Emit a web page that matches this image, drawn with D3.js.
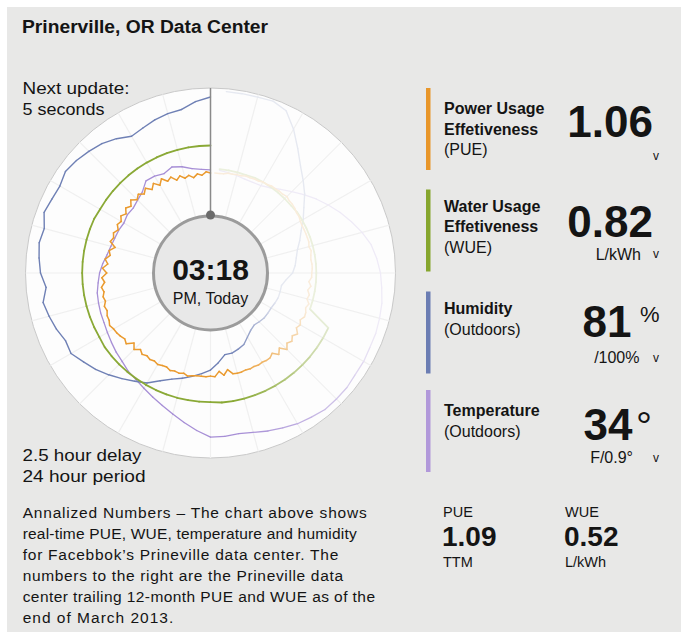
<!DOCTYPE html>
<html><head><meta charset="utf-8">
<script src="https://cdn.jsdelivr.net/npm/d3@7/dist/d3.min.js"></script>
<style>
html,body{margin:0;padding:0;background:#fff;}
svg{display:block;font-family:"Liberation Sans",Arial,Helvetica,sans-serif;}
</style>
</head><body>
<svg id="chart" width="681" height="641"></svg>
<script>
// ---------------- DATA ----------------
const title = "Prinerville, OR Data Center";

// Series sampled back in time from "now" (top of the dial), counter-clockwise over 24 hours.
const humidity = [80.7,78.8,75.9,75.4,74.4,73.0,72.0,74.9,77.3,78.8,
  80.2,81.2,79.7,80.2,81.2,78.8,79.7,78.8,77.8,75.4,
  77.8,76.4,74.9,73.0,73.5,70.6,68.2,65.3,62.4,59.6,
  57.2,53.3,50.4,48.5,46.6,44.7,42.8,39.4,36.0,36.0,
  35.1,34.1,31.7,29.8,28.8,29.3,29.8,29.8,29.8,30.3,
  30.8,30.8,30.8,32.7,35.6,37.0,38.0,39.4,41.8,44.2,
  47.6,50.9,55.2,59.1,63.4,69.2,75.9,82.1,84.0,83.6,
  83.6,83.6];

const temperature = [33.8,34.1,34.7,36.0,36.9,35.9,36.6,36.8,34.7,33.8,
  33.1,33.3,32.8,33.2,33.4,33.8,34.4,35.4,36.3,36.9,
  37.6,37.9,38.2,38.4,38.9,39.5,40.2,40.8,41.8,42.4,
  43.4,44.6,45.9,47.5,49.4,51.4,53.3,53.3,53.0,53.6,
  54.6,55.5,56.5,57.1,57.8,57.8,57.8,57.4,57.4,57.1,
  57.1,56.8,56.5,55.8,55.2,54.2,53.0,51.0,48.8,46.6,
  44.3,42.1,39.8,37.6,35.7,34.1,33.1,32.8,32.8,33.1,
  33.4,33.8];

const wue = [0.81,0.81,0.81,0.81,0.81,0.81,0.81,0.81,0.81,0.81,
  0.81,0.81,0.81,0.82,0.82,0.82,0.82,0.82,0.82,0.82,
  0.82,0.82,0.82,0.82,0.82,0.83,0.83,0.83,0.83,0.83,
  0.83,0.83,0.83,0.83,0.83,0.83,0.83,0.84,0.84,0.84,
  0.84,0.84,0.84,0.84,0.84,0.84,0.84,0.84,0.84,0.84,
  0.55,0.55,0.55,0.55,0.55,0.55,0.55,0.55,0.55,0.55,
  0.55,0.55,0.54,0.54,0.54,0.54,0.54,0.54,0.53,0.53,
  0.53,0.53];

const pue = [1.064,1.066,1.061,1.064,1.059,1.064,1.061,1.067,1.062,1.070,
  1.066,1.074,1.066,1.074,1.067,1.075,1.069,1.075,1.070,1.077,
  1.070,1.075,1.069,1.074,1.069,1.072,1.067,1.072,1.069,1.072,
  1.062,1.070,1.067,1.074,1.069,1.077,1.070,1.078,1.074,1.080,
  1.077,1.080,1.078,1.082,1.080,1.083,1.083,1.086,1.083,1.082,
  1.080,1.077,1.080,1.070,1.077,1.070,1.074,1.071,1.073,1.071,
  1.073,1.071,1.070,1.073,1.071,1.072,1.070,1.073,1.071,1.070,
  1.070,1.070,1.069,1.070,1.062,1.069,1.061,1.069,1.070,1.070,
  1.069,1.070,1.069,1.070,1.069,1.070,1.070,1.066,1.074,1.067,
  1.077,1.070,1.074,1.069,1.074,1.067,1.070,1.066,1.070,1.069,
  1.066,1.069,1.064,1.066,1.062,1.066,1.062,1.066,1.066,1.067,
  1.067,1.066,1.067,1.069,1.067,1.069,1.069,1.069,1.069,1.069,
  1.070,1.072,1.072,1.074,1.075,1.075,1.077,1.075,1.075,1.074,
  1.074,1.072,1.072,1.070,1.070,1.069,1.069,1.067,1.067,1.066,
  1.066,1.064,1.064,1.064];

const periodHours = 24;
const clockTime = "03:18";
const clockSub = "PM, Today";
const leftTopLines = ["Next update:", "5 seconds"];
const leftBottomLines = ["2.5 hour delay", "24 hour period"];

const metricLabels = [["Power Usage","Effetiveness"],["Water Usage","Effetiveness"],["Humidity"],["Temperature"]];
const metricSubs = ["(PUE)","(WUE)","(Outdoors)","(Outdoors)"];
const metricValues = ["1.06","0.82","81","34"];
const metricSups = ["","","%","°"];
const metricUnits = ["","L/kWh","/100%","F/0.9°"];
const metricColors = ["#e8962a","#86a62e","#6b7db3","#b198da"];

const ttmLabels = ["PUE","WUE"];
const ttmValues = ["1.09","0.52"];
const ttmUnits = ["TTM","L/kWh"];

const noteLines = ["Annalized Numbers – The chart above shows",
  "real-time PUE, WUE, temperature and humidity",
  "for Facebbok’s Prineville data center. The",
  "numbers to the right are the Prineville data",
  "center trailing 12-month PUE and WUE as of the",
  "end of March 2013."];

// ---------------- DRAW ----------------
const svg = d3.select("#chart");
const ink = "#141414";

svg.append("rect").attr("x",7).attr("y",7).attr("width",674).attr("height",625).attr("fill","#e8e8e7");

svg.append("text").attr("x",22).attr("y",33).attr("font-size",18).attr("font-weight","bold")
  .attr("fill",ink).attr("textLength",246).attr("lengthAdjust","spacingAndGlyphs").text(title);

// left captions
const leftTopW = [107, 82], leftBotW = [119, 123];
leftTopLines.forEach((t,i)=>svg.append("text").attr("x",22.5).attr("y",93.5+i*21.5)
  .attr("font-size",17).attr("fill",ink).attr("textLength",leftTopW[i]).attr("lengthAdjust","spacingAndGlyphs").text(t));
leftBottomLines.forEach((t,i)=>svg.append("text").attr("x",22.5).attr("y",460.5+i*21.5)
  .attr("font-size",17).attr("fill",ink).attr("textLength",leftBotW[i]).attr("lengthAdjust","spacingAndGlyphs").text(t));

// dial
const cx = 210.5, cy = 273, rIn = 60, rOut = 185, hub = 57;
const g = svg.append("g").attr("transform",`translate(${cx},${cy})`);
g.append("circle").attr("r",rOut).attr("fill","#fdfdfd").attr("stroke","#c9c9c9").attr("stroke-width",1);

const angle = d3.scaleLinear().domain([0, periodHours]).range([0, -2*Math.PI]);
// faint spokes every hour
const spokeHours = d3.range(0, periodHours, 1);
g.selectAll("line.spoke").data(spokeHours).join("line").attr("class","spoke")
  .attr("x1",h=>hub*Math.sin(angle(h))).attr("y1",h=>-hub*Math.cos(angle(h)))
  .attr("x2",h=>rOut*Math.sin(angle(h))).attr("y2",h=>-rOut*Math.cos(angle(h)))
  .attr("stroke","#f0f0f0").attr("stroke-width",1.2);

const scales = {
  humidity: d3.scaleLinear().domain([25,85]).range([rIn,rOut]),
  temperature: d3.scaleLinear().domain([20,60]).range([rIn,rOut]),
  wue: d3.scaleLinear().domain([0,1.5]).range([rIn,rOut]),
  pue: d3.scaleLinear().domain([1.0,1.2]).range([rIn,rOut])
};
const series = [
  {values: temperature, scale: scales.temperature, color: "#a78fd6", w: 1.3},
  {values: humidity, scale: scales.humidity, color: "#6f80b5", w: 1.4},
  {values: wue, scale: scales.wue, color: "#8aa936", w: 1.8},
  {values: pue, scale: scales.pue, color: "#ea9a2e", w: 1.5}
];
const fade = deg => deg <= 192 ? 0 : deg >= 250 ? 0.84 : 0.84*(deg-192)/58;
const radial = d3.lineRadial().angle(d=>d.a).radius(d=>d.r);
series.forEach(s=>{
  const n = s.values.length;
  const pts = s.values.map((v,i)=>({a: angle(i*periodHours/n), r: s.scale(v), deg: i*360/n}));
  const sg = g.append("g");
  for (let i=0;i<n-1;i++){
    const f = fade((pts[i].deg+pts[i+1].deg)/2);
    sg.append("path").attr("d", radial([pts[i],pts[i+1]]))
      .attr("fill","none").attr("stroke", d3.interpolateRgb(s.color,"#fdfdfd")(f))
      .attr("stroke-width", s.w).attr("stroke-linecap","round").attr("stroke-linejoin","round");
  }
});

// "now" hand
g.append("line").attr("x1",0).attr("y1",-rOut).attr("x2",0).attr("y2",-hub-1.5)
  .attr("stroke","#8a8a8a").attr("stroke-width",1.5);
g.append("circle").attr("r",hub).attr("fill","#e8e8e8").attr("stroke","#9b9b9b").attr("stroke-width",3);
g.append("circle").attr("cx",0).attr("cy",-hub-1).attr("r",4.5).attr("fill","#6b6b6b");
g.append("text").attr("x",0).attr("y",6.5).attr("text-anchor","middle").attr("font-size",30)
  .attr("font-weight","bold").attr("fill",ink).text(clockTime);
g.append("text").attr("x",0).attr("y",30.5).attr("text-anchor","middle").attr("font-size",16)
  .attr("fill",ink).text(clockSub);

// right panel
const blockTop = [88, 189.5, 291.5, 390];
const labelY = [[113.5,134.5,155],[211.5,232,252.5],[314,334.5],[416,436.5]];
const valueY = [137, 237, 337, 439.5];
const valueEnd = [653, 653, 631.5, 632.5];
const unitY = [0, 260, 363, 463];
const unitEnd = [0, 641, 639.5, 633];
const vY = [159.5, 257.5, 361.5, 462];
metricLabels.forEach((lab,k)=>{
  svg.append("rect").attr("x",426).attr("y",blockTop[k]).attr("width",4.5).attr("height",82).attr("fill",metricColors[k]);
  lab.forEach((t,j)=>svg.append("text").attr("x",444).attr("y",labelY[k][j]).attr("font-size",16)
    .attr("font-weight","bold").attr("fill",ink).text(t));
  svg.append("text").attr("x",444).attr("y",labelY[k][lab.length]).attr("font-size",16).attr("fill",ink).text(metricSubs[k]);
  svg.append("text").attr("x",valueEnd[k]).attr("y",valueY[k]).attr("text-anchor","end").attr("font-size",44)
    .attr("font-weight","bold").attr("fill",ink).text(metricValues[k]);
  if (metricSups[k]==="%") svg.append("text").attr("x",640).attr("y",321.5).attr("font-size",22).attr("fill",ink).text(metricSups[k]);
  if (metricSups[k]==="°") svg.append("text").attr("x",636).attr("y",439.5).attr("font-size",40).attr("fill",ink).text(metricSups[k]);
  if (metricUnits[k]) svg.append("text").attr("x",unitEnd[k]).attr("y",unitY[k]).attr("text-anchor","end")
    .attr("font-size",16).attr("fill",ink).text(metricUnits[k]);
  svg.append("text").attr("x",653).attr("y",vY[k]).attr("font-size",12).attr("fill",ink).text("v");
});

// TTM numbers
const ttmX = [443, 565];
ttmLabels.forEach((t,k)=>{
  svg.append("text").attr("x",ttmX[k]).attr("y",517).attr("font-size",14.5).attr("fill",ink).text(t);
  svg.append("text").attr("x",ttmX[k]-1).attr("y",546).attr("font-size",28).attr("font-weight","bold").attr("fill",ink).text(ttmValues[k]);
  svg.append("text").attr("x",ttmX[k]).attr("y",567).attr("font-size",14.5).attr("fill",ink).text(ttmUnits[k]);
});

// note paragraph
const noteW = [344, 334, 315.6, 320.3, 352.3, 150.6];
noteLines.forEach((t,i)=>svg.append("text").attr("x",22.7).attr("y",518+i*21.05).attr("font-size",15.5)
  .attr("fill",ink).attr("textLength",noteW[i]).attr("lengthAdjust","spacing").text(t));
</script>
</body></html>
